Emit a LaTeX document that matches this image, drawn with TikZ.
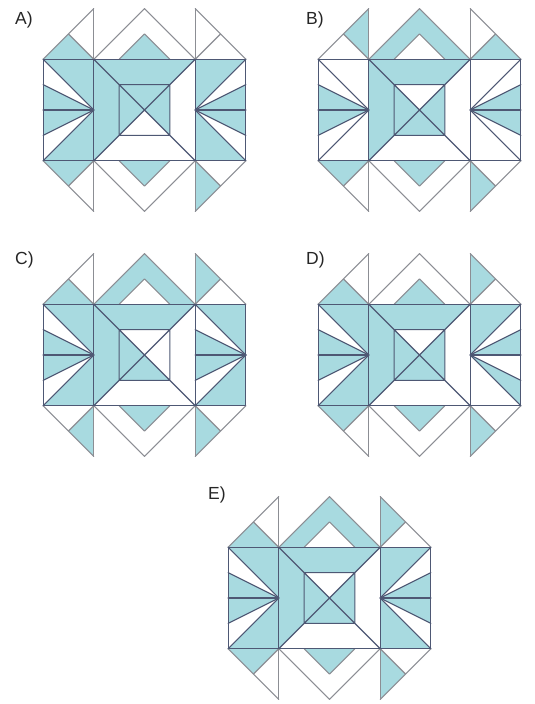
\documentclass[tikz,border=0pt]{standalone}
\usepackage{fontspec}
\newfontfamily\labfont{Liberation Sans}
\definecolor{fillc}{RGB}{168,218,224}
\definecolor{greyl}{RGB}{140,142,148}
\definecolor{darkl}{RGB}{78,88,116}
\tikzset{
  gl/.style={draw=greyl,line width=1.1pt,line join=round,line cap=round},
  dl/.style={draw=darkl,line width=1.1pt,line join=round,line cap=round},
  lab/.style={font=\labfont\fontsize{17.5}{18}\selectfont,anchor=base west,inner sep=0pt,text=black!85}
}
% regions (unit = half side of the centre square)
\newcommand\rTLa{(-1,2)--(-1.5,1.5)--(-1,1)--cycle}
\newcommand\rTLb{(-2,1)--(-1.5,1.5)--(-1,1)--cycle}
\newcommand\rTRa{(1,2)--(1.5,1.5)--(1,1)--cycle}
\newcommand\rTRb{(2,1)--(1.5,1.5)--(1,1)--cycle}
\newcommand\rBLa{(-1,-2)--(-1.5,-1.5)--(-1,-1)--cycle}
\newcommand\rBLb{(-2,-1)--(-1.5,-1.5)--(-1,-1)--cycle}
\newcommand\rBRa{(1,-2)--(1.5,-1.5)--(1,-1)--cycle}
\newcommand\rBRb{(2,-1)--(1.5,-1.5)--(1,-1)--cycle}
\newcommand\rtopband{(-1,1)--(0,2)--(1,1)--(0.5,1)--(0,1.5)--(-0.5,1)--cycle}
\newcommand\rtopin{(-0.5,1)--(0,1.5)--(0.5,1)--cycle}
\newcommand\rbotband{(-1,-1)--(0,-2)--(1,-1)--(0.5,-1)--(0,-1.5)--(-0.5,-1)--cycle}
\newcommand\rbotin{(-0.5,-1)--(0,-1.5)--(0.5,-1)--cycle}
\newcommand\rTtop{(-1,1)--(1,1)--(0.5,0.5)--(-0.5,0.5)--cycle}
\newcommand\rTleft{(-1,1)--(-0.5,0.5)--(-0.5,-0.5)--(-1,-1)--cycle}
\newcommand\rTright{(1,1)--(0.5,0.5)--(0.5,-0.5)--(1,-1)--cycle}
\newcommand\rTbot{(-1,-1)--(1,-1)--(0.5,-0.5)--(-0.5,-0.5)--cycle}
\newcommand\rItop{(-0.5,0.5)--(0.5,0.5)--(0,0)--cycle}
\newcommand\rIleft{(-0.5,0.5)--(-0.5,-0.5)--(0,0)--cycle}
\newcommand\rIright{(0.5,0.5)--(0.5,-0.5)--(0,0)--cycle}
\newcommand\rIbot{(-0.5,-0.5)--(0.5,-0.5)--(0,0)--cycle}
\newcommand\rLtop{(-2,1)--(-1,1)--(-1,0)--cycle}
\newcommand\rLi{(-2,1)--(-2,0.5)--(-1,0)--cycle}
\newcommand\rLii{(-2,0.5)--(-2,0)--(-1,0)--cycle}
\newcommand\rLiii{(-2,0)--(-2,-0.5)--(-1,0)--cycle}
\newcommand\rLiv{(-2,-0.5)--(-2,-1)--(-1,0)--cycle}
\newcommand\rLbot{(-2,-1)--(-1,-1)--(-1,0)--cycle}
\newcommand\rRtop{(1,1)--(2,1)--(1,0)--cycle}
\newcommand\rRi{(2,1)--(2,0.5)--(1,0)--cycle}
\newcommand\rRii{(2,0.5)--(2,0)--(1,0)--cycle}
\newcommand\rRiii{(2,0)--(2,-0.5)--(1,0)--cycle}
\newcommand\rRiv{(2,-0.5)--(2,-1)--(1,0)--cycle}
\newcommand\rRbot{(1,-1)--(2,-1)--(1,0)--cycle}
\newcommand\rStop{(1,1)--(2,1)--(2,0)--cycle}
\newcommand\rSi{(1,1)--(1,0.5)--(2,0)--cycle}
\newcommand\rSii{(1,0.5)--(1,0)--(2,0)--cycle}
\newcommand\rSiii{(1,0)--(1,-0.5)--(2,0)--cycle}
\newcommand\rSiv{(1,-0.5)--(1,-1)--(2,0)--cycle}
\newcommand\rSbot{(1,-1)--(2,-1)--(2,0)--cycle}
\newcommand\fillreg[1]{\edef\tmpfill{\noexpand\fill[fillc] \csname r#1\endcsname;}\tmpfill}
% #1 x, #2 y (pixels from top-left), #3 fills, #4 apex x of right fan, #5 edge x of right fan
\newcommand\quilt[5]{%
  \begin{scope}[shift={(#1pt,-#2pt)},x=50.7pt,y=50.7pt]
    \foreach \r in {#3}{\fillreg{\r}}
    \draw[gl] (-1,2)--(-2,1) (-1.5,1.5)--(-1,1) (1,2)--(2,1) (1.5,1.5)--(1,1);
    \draw[gl] (-1,-2)--(-2,-1) (-1.5,-1.5)--(-1,-1) (1,-2)--(2,-1) (1.5,-1.5)--(1,-1);
    \draw[gl] (-1,1)--(0,2)--(1,1) (-0.5,1)--(0,1.5)--(0.5,1);
    \draw[gl] (-1,-1)--(0,-2)--(1,-1) (-0.5,-1)--(0,-1.5)--(0.5,-1);
    \draw[gl] (-1,2)--(-1,1) (1,2)--(1,1) (-1,-2)--(-1,-1) (1,-2)--(1,-1);
    \draw[dl] (-2,-1) rectangle (2,1) (-1,-1)--(-1,1) (1,-1)--(1,1);
    \draw[dl] (-0.5,-0.5) rectangle (0.5,0.5) (-1,1)--(1,-1) (1,1)--(-1,-1);
    \foreach \yy in {1,0.5,0,-0.5,-1}{\draw[dl] (-1,0)--(-2,\yy); \draw[dl] (#4,0)--(#5,\yy);}
  \end{scope}}
\begin{document}
\begin{tikzpicture}[x=1pt,y=1pt]
\useasboundingbox[fill=white] (0,0) rectangle (535,-704);
% A
\quilt{144.5}{110}{TLb,topin,Ltop,Lii,Liii,Lbot,Ttop,Tleft,Itop,Ileft,Iright,Rtop,Rii,Riii,Rbot,BLb,BRa,botin}{1}{2}
% B
\quilt{419.5}{110}{TLa,TRb,topband,Lii,Liii,Ttop,Tleft,Ileft,Iright,Ibot,Rii,Riii,BLb,BRa,botin}{1}{2}
% C
\quilt{144.5}{355}{TLb,TRa,topband,Ltop,Lii,Liii,Lbot,Ttop,Tleft,Ileft,Ibot,Stop,Sii,Siii,Sbot,BLa,BRa,botin}{2}{1}
% D
\quilt{419.5}{355}{TLb,TRa,topin,Ltop,Lii,Liii,Lbot,Ttop,Tleft,Ileft,Iright,Ibot,Rtop,Rii,Riv,BLb,BRa,botin}{1}{2}
% E
\quilt{329.5}{598}{TLb,TRa,topband,Ltop,Lii,Liii,Lbot,Ttop,Tleft,Ileft,Iright,Ibot,Rtop,Rii,Riii,Rbot,BLb,BRa,botin}{1}{2}
\node[lab] (labA) at (15,-24) {A)};
\node[lab] (labB) at (306,-24) {B)};
\node[lab] (labC) at (15,-264) {C)};
\node[lab] (labD) at (306,-264) {D)};
\node[lab] (labE) at (208,-499) {E)};
\end{tikzpicture}
\end{document}
